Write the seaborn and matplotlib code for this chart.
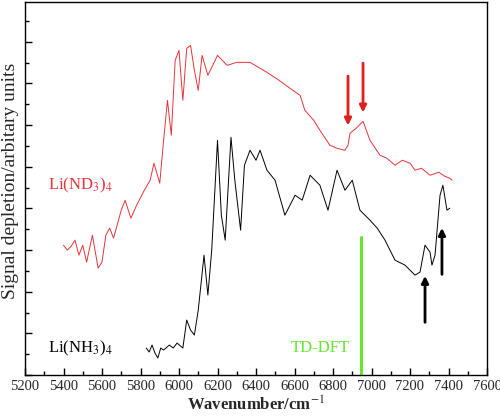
import numpy as np
import pandas as pd
import matplotlib
matplotlib.use("Agg")
import matplotlib.pyplot as plt
import seaborn as sns
from matplotlib.ticker import MultipleLocator, NullFormatter

# Li(ND3)4 spectrum (wavenumber, signal)
nd3_wn = [5400, 5420, 5440, 5460, 5480, 5500, 5520, 5550, 5580, 5600, 5620, 5640, 5660, 5700, 5720,
          5750, 5780, 5820, 5850, 5870, 5900, 5920, 5940, 5960, 5980, 6000, 6020, 6040, 6060, 6080,
          6100, 6120, 6150, 6200, 6250, 6300, 6369, 6457, 6520, 6577, 6629, 6654, 6700, 6732, 6784,
          6820, 6862, 6878, 6888, 6920, 6956, 6992, 7044, 7080, 7122, 7160, 7200, 7226, 7260, 7304,
          7350, 7380, 7407, 7418]
nd3_px = [245, 250, 246, 240, 255, 245, 262, 235, 268, 262, 235, 228, 238, 210, 200,
          218, 205, 190, 180, 163, 183, 140, 100, 135, 60, 50, 100, 48, 45, 70,
          90, 55, 75, 55, 65, 62, 62, 72, 80, 88, 95, 110, 120, 130, 145,
          148, 150, 145, 133, 128, 121, 140, 155, 158, 165, 160, 163, 170, 168, 175,
          172, 176, 178, 180]

# Li(NH3)4 spectrum
nh3_wn = [5830, 5845, 5860, 5875, 5890, 5905, 5920, 5950, 5970, 5990, 6020, 6040, 6060, 6080, 6100,
          6130, 6150, 6170, 6200, 6220, 6240, 6270, 6290, 6320, 6340, 6369, 6400, 6421, 6457, 6499,
          6550, 6603, 6640, 6681, 6732, 6774, 6821, 6862, 6900, 6940, 6992, 7030, 7070, 7122, 7174,
          7226, 7252, 7278, 7304, 7314, 7330, 7356, 7371, 7392, 7407]
nh3_px = [348, 352, 345, 353, 358, 348, 350, 345, 348, 343, 348, 320, 330, 335, 310,
          255, 295, 250, 140, 215, 240, 137, 180, 230, 165, 150, 160, 150, 170, 180,
          215, 195, 200, 175, 185, 210, 170, 190, 180, 210, 220, 228, 240, 260, 265,
          275, 272, 245, 252, 265, 255, 195, 185, 210, 208]

# convert pixel reading to arbitrary units
def to_units(px):
    return (375 - np.array(px)) / 41.7

df = pd.concat([
    pd.DataFrame({"wn": nd3_wn, "sig": to_units(nd3_px), "sample": "ND3"}),
    pd.DataFrame({"wn": nh3_wn, "sig": to_units(nh3_px), "sample": "NH3"}),
])

sns.set_theme(style="ticks")
plt.rcParams["font.family"] = ["Liberation Serif", "DejaVu Serif"]
plt.rcParams["mathtext.fontset"] = "stix"

fig = plt.figure(figsize=(5, 4.17), dpi=100)
ax = fig.add_axes([0.05, 0.1007, 0.924, 0.894])
sns.lineplot(data=df, x="wn", y="sig", hue="sample", palette={"ND3": "#e8333a", "NH3": "black"},
             linewidth=0.7, legend=False, ax=ax, estimator=None, sort=False)

# arrows
red_arrows = [(6878, 73, 128), (6956, 60, 115)]
black_arrows = [(7278, 325, 273), (7366, 277, 225)]
for x, y0, y1 in red_arrows:
    ax.annotate("", xy=(x, to_units(y1)), xytext=(x, to_units(y0)),
                arrowprops=dict(arrowstyle="-|>", color="#e02020", lw=2, mutation_scale=10))
for x, y0, y1 in black_arrows:
    ax.annotate("", xy=(x, to_units(y1)), xytext=(x, to_units(y0)),
                arrowprops=dict(arrowstyle="-|>", color="black", lw=2, mutation_scale=10))

ax.plot([6945, 6945], [0, to_units(237)], color="#66e62e", lw=2.2)
ax.text(5320, to_units(185), "Li(ND$_3$)$_4$", color="#e8333a", fontsize=12, va="center")
ax.text(5320, to_units(348), "Li(NH$_3$)$_4$", color="black", fontsize=12, va="center")
ax.text(6890, to_units(348), "TD-DFT", color="#66e62e", fontsize=12, va="center", ha="right")

ax.set_xlim(5200, 7600)
ax.set_ylim(0, 8.95)
ax.xaxis.set_major_locator(MultipleLocator(200))
ax.xaxis.set_minor_locator(MultipleLocator(100))
ax.yaxis.set_major_locator(MultipleLocator(1))
ax.yaxis.set_minor_locator(MultipleLocator(0.5))
ax.yaxis.set_major_formatter(NullFormatter())
ax.tick_params(which="both", direction="in", color="black", width=1)
ax.tick_params(which="major", length=5, labelsize=10.5)
ax.tick_params(which="minor", length=3)
for s in ax.spines.values():
    s.set_color("black")
    s.set_linewidth(1)
ax.set_xlabel("Wavenumber/cm$^{-1}$", fontsize=12, fontweight="bold", labelpad=2)
ax.set_ylabel("Signal depletion/arbitary units", fontsize=14)
ax.yaxis.set_label_coords(-0.012, 0.52)

fig.savefig("out.png")
